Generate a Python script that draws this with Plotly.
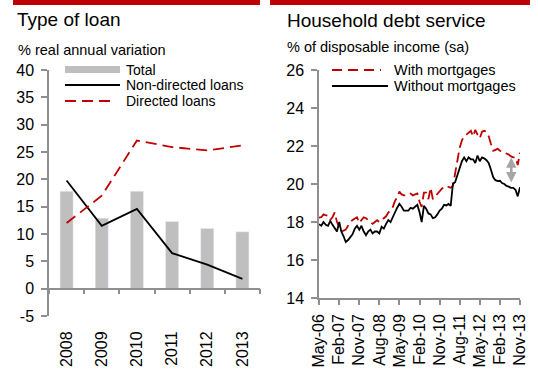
import plotly.graph_objects as go
import pandas as pd

# ---------------- data ----------------
years = ["2008", "2009", "2010", "2011", "2012", "2013"]
total = [17.8, 12.9, 17.8, 12.3, 11.0, 10.4]
non_directed = [19.8, 11.5, 14.6, 6.5, 4.4, 1.8]
directed = [12.0, 17.0, 27.1, 25.9, 25.3, 26.2]
left_ticks = [-5, 0, 5, 10, 15, 20, 25, 30, 35, 40]
left_tick_labels = ["-5", "0", "5", "10", "15", "20", "25", "30", "35", "40"]

months = pd.date_range("2006-05-01", periods=91, freq="MS")
without_mortgages = [
    17.88, 17.8, 18.0, 17.85, 17.8, 18.05, 17.85, 17.65, 17.5, 18.0,
    17.5, 17.25, 16.95, 17.05, 17.2, 17.35, 17.65, 17.8, 17.6, 17.8,
    17.5, 17.3, 17.5, 17.6, 17.4, 17.5, 17.5, 17.4, 17.75, 17.65,
    17.9, 18.1, 18.0, 18.3, 18.5, 18.75, 18.95, 18.8, 18.6, 18.6,
    18.6, 18.75, 18.7, 18.8, 18.9, 18.5, 18.0, 18.85, 18.7, 18.45,
    18.4, 18.2, 18.25, 18.4, 18.6, 18.7, 18.9, 18.87, 18.95, 18.85,
    20.0, 20.1, 20.5, 20.87, 21.2, 21.4, 21.2, 21.4, 21.3, 21.3,
    21.1, 21.5, 21.2, 21.4, 21.35, 21.25, 21.1, 20.75, 20.35, 20.2,
    20.15, 20.17, 20.05, 20.0, 19.9, 19.86, 19.8, 19.8, 19.7, 19.35,
    19.83,
]
with_mortgages = [
    18.23, 18.25, 18.4, 18.35, 18.35, 18.1, 18.25, 18.5, 18.0, 17.75,
    17.5, 17.55, 17.6, 17.8, 18.0, 18.1, 18.2, 18.25, 17.95, 18.1,
    18.25, 18.2, 18.1, 18.0, 17.9, 18.0, 18.1, 18.0, 18.1, 18.2,
    18.3, 18.5, 18.6, 18.8, 19.1, 19.3, 19.6, 19.45, 19.4, 19.4,
    19.45, 19.5, 19.4, 19.45, 19.5, 19.05, 18.8, 19.55, 19.55, 19.2,
    19.8, 19.2, 19.35, 19.45, 19.65, 19.75, 19.85, 19.9, 19.85, 19.8,
    19.9, 20.6, 21.3, 21.9, 22.3, 22.5, 22.6, 22.7, 22.8, 22.5,
    22.85, 22.6, 22.4, 22.75, 22.8, 22.75, 22.5, 22.1, 21.75, 21.8,
    21.85, 21.75, 21.7, 21.65, 21.6, 21.55, 21.45, 21.4, 21.4, 21.0,
    21.65,
]
gap_arrow_date = "2013-07-05"
gap_arrow_top = 21.4
gap_arrow_bottom = 20.0

# ---------------- style ----------------
W, H = 538, 371
FONT = "Liberation Sans, Arial, sans-serif"
RED = "#C00000"
GREY_BAR = "#BFBFBF"
AXIS = "#8F8F8F"


def px(x):
    return x / W


def py(y):
    return 1 - y / H


left_x = [px(49), px(260)]
left_y = [py(316), py(70)]
right_x = [px(319), px(520)]
right_y = [py(298), py(70)]
y_range_left = [-5, 40]
zero_pos = left_y[0] + (0 - y_range_left[0]) / (y_range_left[1] - y_range_left[0]) * (left_y[1] - left_y[0])

fig = go.Figure()

xs = list(range(len(years)))
fig.add_trace(go.Bar(x=xs, y=total, marker_color=GREY_BAR, width=0.37,
                     name="Total", xaxis="x", yaxis="y"))
fig.add_trace(go.Scatter(x=xs, y=non_directed, mode="lines", name="Non-directed loans",
                         line=dict(color="black", width=1.8), xaxis="x", yaxis="y"))
fig.add_trace(go.Scatter(x=xs, y=directed, mode="lines", name="Directed loans",
                         line=dict(color=RED, width=1.8, dash="11px,6px"), xaxis="x", yaxis="y"))
# carrier for the category axis drawn along y = 0 (no visible marks)
fig.add_trace(go.Scatter(x=[xs[0]], y=[None], mode="lines", showlegend=False,
                         hoverinfo="skip", xaxis="x3", yaxis="y"))

fig.add_trace(go.Scatter(x=months, y=with_mortgages, mode="lines", name="With mortgages",
                         line=dict(color=RED, width=1.8, dash="10px,5px"), xaxis="x2", yaxis="y2"))
fig.add_trace(go.Scatter(x=months, y=without_mortgages, mode="lines", name="Without mortgages",
                         line=dict(color="black", width=1.8), xaxis="x2", yaxis="y2"))

tickfont = dict(family=FONT, size=16, color="black")

fig.update_layout(
    width=W, height=H,
    margin=dict(l=0, r=0, t=0, b=0, autoexpand=False),
    paper_bgcolor="white", plot_bgcolor="white",
    showlegend=False,
    font=dict(family=FONT, color="black"),
    xaxis=dict(domain=left_x, range=[-0.5, 5.5], anchor="y", side="bottom", automargin=False,
               tickvals=xs, ticktext=years, tickangle=-90, tickfont=tickfont,
               ticks="outside", ticklen=8, tickcolor="rgba(0,0,0,0)",
               showline=False, showgrid=False, zeroline=False),
    xaxis3=dict(domain=left_x, range=[-0.5, 5.5], overlaying="x", anchor="free", position=zero_pos,
                automargin=False,
                showline=True, linecolor=AXIS, linewidth=1.5,
                ticks="outside", ticklen=5, tickcolor=AXIS, tickwidth=1.5,
                tickvals=[i - 0.5 for i in range(len(years) + 1)],
                showticklabels=False, showgrid=False, zeroline=False),
    yaxis=dict(domain=left_y, range=y_range_left, anchor="x", automargin=False,
               tickvals=left_ticks, ticktext=left_tick_labels,
               showline=True, linecolor=AXIS, linewidth=1.5,
               ticks="outside", ticklen=6, tickcolor=AXIS, tickwidth=1.5,
               tickfont=tickfont, ticklabelstandoff=4,
               showgrid=False, zeroline=False),
    xaxis2=dict(domain=right_x, type="date", range=["2006-05-01", "2013-11-01"], anchor="y2",
                automargin=False,
                tick0="2006-05-01", dtick="M9", tickformat="%b-%y", tickangle=-90,
                tickfont=tickfont, showline=True, linecolor=AXIS, linewidth=1.5,
                ticks="outside", ticklen=5, tickcolor=AXIS, tickwidth=1.5, ticklabelstandoff=3,
                showgrid=False, zeroline=False),
    yaxis2=dict(domain=right_y, range=[14, 26], dtick=2, anchor="x2", automargin=False,
                showline=True, linecolor=AXIS, linewidth=1.5,
                ticks="outside", ticklen=6, tickcolor=AXIS, tickwidth=1.5,
                tickfont=tickfont, ticklabelstandoff=4,
                showgrid=False, zeroline=False),
)

# gap arrow
fig.add_annotation(x=gap_arrow_date, y=gap_arrow_top, ax=gap_arrow_date, ay=gap_arrow_bottom,
                   xref="x2", yref="y2", axref="x2", ayref="y2", text="",
                   showarrow=True, arrowside="end+start", arrowhead=2, arrowsize=0.8,
                   arrowwidth=2.6, arrowcolor="#A6A6A6")

# red header bars
for x0, x1 in [(13, 260), (270, 530)]:
    fig.add_shape(type="rect", xref="paper", yref="paper", x0=px(x0), x1=px(x1),
                  y0=py(5), y1=py(0), fillcolor=RED, line_width=0, layer="above")


def label(text, x, y, size):
    fig.add_annotation(text=text, x=px(x), y=py(y), xref="paper", yref="paper",
                       xanchor="left", yanchor="middle", showarrow=False,
                       font=dict(family=FONT, size=size, color="black"))


label("Type of loan", 15, 19.5, 19)
label("% real annual variation", 15.5, 50, 14.5)
label("Household debt service", 285, 20, 19)
label("% of disposable income (sa)", 285, 47.5, 14.5)

# manual legends
fig.add_shape(type="rect", xref="paper", yref="paper", x0=px(65), x1=px(120),
              y0=py(73), y1=py(66), fillcolor=GREY_BAR, line_width=0)
fig.add_shape(type="line", xref="paper", yref="paper", x0=px(65), x1=px(120),
              y0=py(85), y1=py(85), line=dict(color="black", width=1.8))
fig.add_shape(type="line", xref="paper", yref="paper", x0=px(65), x1=px(115),
              y0=py(101), y1=py(101), line=dict(color=RED, width=1.8, dash="11px,6px"))
label("Total", 124, 69.5, 14)
label("Non-directed loans", 124, 85, 14)
label("Directed loans", 124, 101, 14)

fig.add_shape(type="line", xref="paper", yref="paper", x0=px(332), x1=px(381),
              y0=py(70), y1=py(70), line=dict(color=RED, width=1.8, dash="10px,6px"))
fig.add_shape(type="line", xref="paper", yref="paper", x0=px(332), x1=px(388),
              y0=py(86), y1=py(86), line=dict(color="black", width=1.8))
label("With mortgages", 392, 70, 14.5)
label("Without mortgages", 392, 86, 14.5)

fig.write_html("out.html")
